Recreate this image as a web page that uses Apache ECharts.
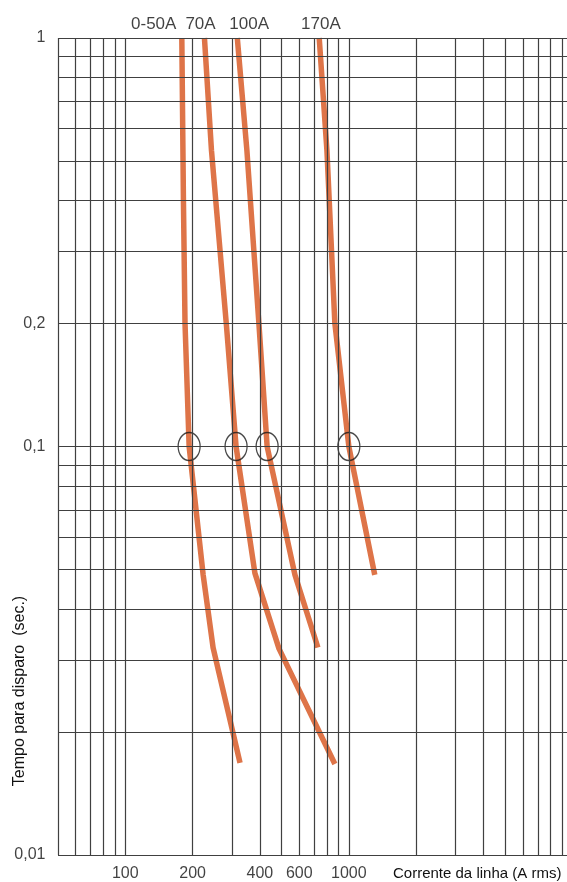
<!DOCTYPE html>
<html><head><meta charset="utf-8">
<script src="https://cdn.jsdelivr.net/npm/echarts@6/dist/echarts.min.js"></script>
<style>html,body{margin:0;padding:0;background:#fff}#c{width:567px;height:882px}</style>
</head><body><div id="c"></div>
<script>
// Curves: current (A rms) vs trip time (s)
const seriesNames = ['0-50A', '70A', '100A', '170A'];
const curve050 = [[179, 1], [182, 0.4], [185, 0.2], [193, 0.1], [223, 0.0485], [247, 0.0322], [326, 0.0168]];
const curve70  = [[226, 1], [243, 0.53], [283, 0.2], [313, 0.1], [380, 0.049], [487, 0.032], [866, 0.0167]];
const curve100 = [[317, 1], [350, 0.53], [396, 0.2], [431, 0.1], [574, 0.0485], [727, 0.0322]];
const curve170 = [[737, 1], [798, 0.53], [866, 0.2], [1000, 0.1], [1306, 0.0485]];
// Marked points at 0.1 s
const markerCurrents = [193, 313, 431, 1000];
const markerTime = 0.1;
// Curve name label positions (current) above the chart
const curveLabelX = [134, 217, 358, 750];
// Tick labels
const xTickValues = [100, 200, 400, 600, 1000];
const xTickLabels = ['100', '200', '400', '600', '1000'];
const yTickValues = [1, 0.2, 0.1, 0.01];
const yTickLabels = ['1', '0,2', '0,1', '0,01'];
// Log paper grid lines
const xGrid = [50, 60, 70, 80, 90, 100, 200, 300, 400, 500, 600, 700, 800, 900, 1000, 2000, 3000, 4000, 5000, 6000, 7000, 8000, 9000];
const yGrid = [0.01, 0.02, 0.03, 0.04, 0.05, 0.06, 0.07, 0.08, 0.09, 0.1, 0.2, 0.3, 0.4, 0.5, 0.6, 0.7, 0.8, 0.9, 1];

const FONT = 'Liberation Sans, Arial, sans-serif';
const ORANGE = '#DE7448';
const chart = echarts.init(document.getElementById('c'));
const curves = [curve050, curve70, curve100, curve170];

const series = [];
series.push({
  type: 'line', data: [], silent: true, z: 1,
  markLine: {
    silent: true, symbol: ['none', 'none'], animation: false,
    label: { show: false },
    lineStyle: { color: '#404040', width: 1.2, type: 'solid' },
    emphasis: { disabled: true },
    data: xGrid.map(v => ({ xAxis: v })).concat(yGrid.map(v => ({ yAxis: v })))
  }
});
curves.forEach((c, i) => {
  series.push({
    name: seriesNames[i], type: 'line', data: c, symbol: 'none', z: 3,
    lineStyle: { color: ORANGE, width: 5.5, cap: 'butt', join: 'round' },
    silent: true
  });
});
series.push({
  type: 'scatter', z: 4, silent: true,
  data: markerCurrents.map(v => [v, markerTime]),
  symbol: 'circle', symbolSize: [22, 28],
  itemStyle: { color: 'rgba(0,0,0,0)', borderColor: '#1a1a1a', borderWidth: 1.4 }
});
series.push({
  type: 'scatter', z: 5, silent: true, symbolSize: 1,
  itemStyle: { color: 'rgba(0,0,0,0)' },
  data: curveLabelX.map(v => [v, 1]),
  label: { show: true, position: 'top', distance: 5, lineHeight: 17,
    formatter: p => seriesNames[p.dataIndex], fontSize: 17, color: '#111', fontFamily: FONT }
});
series.push({
  type: 'scatter', z: 5, silent: true, symbolSize: 1,
  itemStyle: { color: 'rgba(0,0,0,0)' },
  data: xTickValues.map(v => [v, 0.01]),
  label: { show: true, position: 'bottom', distance: 10, lineHeight: 16,
    formatter: p => xTickLabels[p.dataIndex], fontSize: 16, color: '#111', fontFamily: FONT }
});
series.push({
  type: 'scatter', z: 5, silent: true, symbolSize: 1,
  itemStyle: { color: 'rgba(0,0,0,0)' },
  data: yTickValues.map(v => [50, v]),
  label: { show: true, position: 'left', distance: 12,
    formatter: p => yTickLabels[p.dataIndex], fontSize: 16, color: '#111', fontFamily: FONT }
});

chart.setOption({
  animation: false,
  backgroundColor: '#fff',
  grid: { left: 58, right: 0, top: 38, bottom: 27, containLabel: false },
  xAxis: { type: 'log', logBase: 10, min: 50, max: 9460,
    axisLine: { show: false }, axisTick: { show: false }, axisLabel: { show: false }, splitLine: { show: false } },
  yAxis: { type: 'log', logBase: 10, min: 0.01, max: 1,
    axisLine: { show: false }, axisTick: { show: false }, axisLabel: { show: false }, splitLine: { show: false } },
  graphic: [
    { type: 'text', left: 393, top: 866, silent: true,
      style: { text: 'Corrente da linha (A rms)', font: '15px ' + FONT, fill: '#111' } },
    { type: 'text', x: 20, y: 691, rotation: Math.PI / 2, silent: true,
      style: { text: 'Tempo para disparo  (sec.)', font: '16px ' + FONT, fill: '#111', align: 'center', verticalAlign: 'middle' } }
  ],
  series: series
});
</script>
</body></html>
